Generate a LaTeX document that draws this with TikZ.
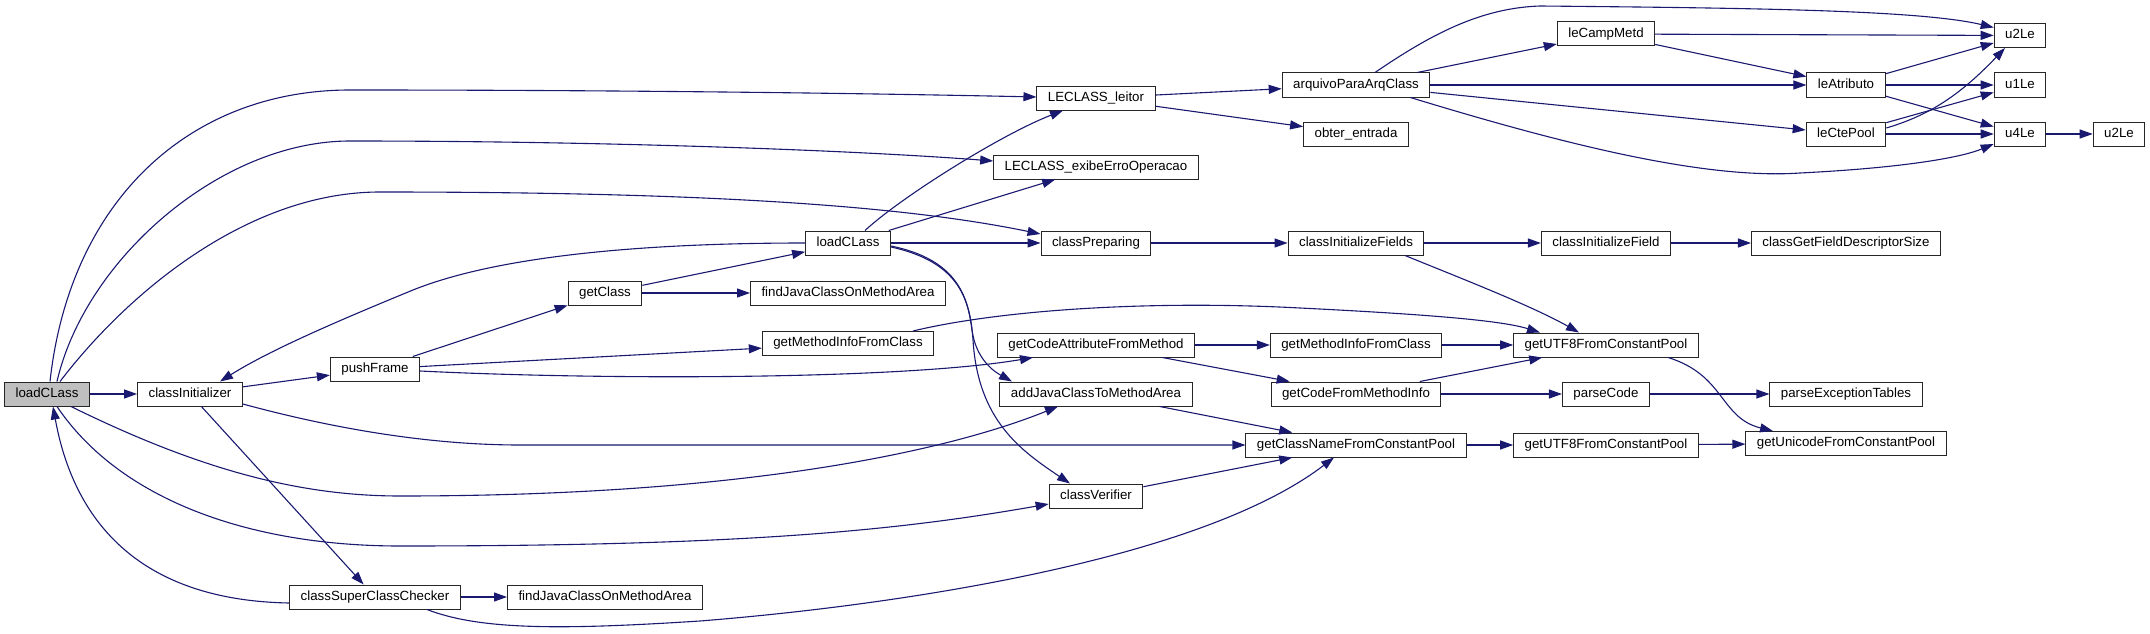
\documentclass[tikz,border=0pt]{standalone}
\usepackage{fontspec}
\setmainfont{Liberation Sans}
\usetikzlibrary{arrows.meta,calc}
\definecolor{edgeblue}{RGB}{25,25,112}
\tikzset{
  fn/.style={draw=black!85, line width=1pt, fill=white, rectangle, inner xsep=11pt, inner ysep=0pt,
    minimum height=24pt, text height=9.6pt, text depth=2.8pt, font=\fontsize{13.3}{15}\selectfont},
  root/.style={fn, fill=black!25},
  call/.style={edgeblue, line width=1.1pt, -{Triangle[length=13pt,width=9pt]}}
}
\begin{document}
\begin{tikzpicture}[x=1pt, y=-1pt]
 \useasboundingbox (0,0) rectangle (2150,634);
 % functions
 \node[root] (lc) at (47,394) {loadCLass};
 \node[fn] (ci) at (190,394) {classInitializer};
 \node[fn] (pf) at (375,369) {pushFrame};
 \node[fn] (cscc) at (375,597) {classSuperClassChecker};
 \node[fn] (gc) at (605,293) {getClass};
 \node[fn] (fjb) at (605,597) {findJavaClassOnMethodArea};
 \node[fn] (lc2) at (848,243) {loadCLass};
 \node[fn] (fjt) at (848,293) {findJavaClassOnMethodArea};
 \node[fn] (gmi1) at (848,343.5) {getMethodInfoFromClass};
 \node[fn] (leitor) at (1096,98) {LECLASS\_leitor};
 \node[fn] (erro) at (1096,167) {LECLASS\_exibeErroOperacao};
 \node[fn] (prep) at (1096,243) {classPreparing};
 \node[fn] (gca) at (1096,345) {getCodeAttributeFromMethod};
 \node[fn] (addj) at (1096,394) {addJavaClassToMethodArea};
 \node[fn] (cver) at (1096,496) {classVerifier};
 \node[fn] (arq) at (1356,85) {arquivoParaArqClass};
 \node[fn] (obter) at (1356,134) {obter\_entrada};
 \node[fn] (cifs) at (1356,243) {classInitializeFields};
 \node[fn] (gmi2) at (1356,345) {getMethodInfoFromClass};
 \node[fn] (gcfm) at (1356,394) {getCodeFromMethodInfo};
 \node[fn] (gcn) at (1356,445) {getClassNameFromConstantPool};
 \node[fn] (lcm) at (1606,34) {leCampMetd};
 \node[fn] (cif) at (1606,243) {classInitializeField};
 \node[fn] (utf1) at (1606,345) {getUTF8FromConstantPool};
 \node[fn] (pcode) at (1606,394) {parseCode};
 \node[fn] (utf2) at (1606,445) {getUTF8FromConstantPool};
 \node[fn] (latr) at (1846,85) {leAtributo};
 \node[fn] (lcp) at (1846,134) {leCtePool};
 \node[fn] (gfds) at (1846,243) {classGetFieldDescriptorSize};
 \node[fn] (pet) at (1846,394) {parseExceptionTables};
 \node[fn] (guni) at (1846,443.5) {getUnicodeFromConstantPool};
 \node[fn] (u2a) at (2020,35.5) {u2Le};
 \node[fn] (u1) at (2020,85) {u1Le};
 \node[fn] (u4) at (2020,134) {u4Le};
 \node[fn] (u2b) at (2119,134) {u2Le};
 % calls from loadCLass
 \draw[call] (lc) -- (ci);
 \draw[call] ($(lc.north)+(3,0)$) .. controls (70,200) and (190,90) .. (350,90) .. controls (650,90) and (900,94) .. ($(leitor.west)+(0,-1)$);
 \draw[call] ($(lc.north)+(10,0)$) .. controls (85,260) and (220,141) .. (350,141) .. controls (600,141) and (850,150) .. ($(erro.west)+(0,-6)$);
 \draw[call] ($(lc.north)+(13,0)$) .. controls (130,290) and (250,192) .. (380,192) .. controls (700,192) and (900,205) .. ($(prep.west)+(0,-9)$);
 \draw[call] ($(lc.south)+(24,0)$) .. controls (200,470) and (300,496) .. (400,496) .. controls (750,496) and (950,450) .. ($(addj.south)+(-38,0)$);
 \draw[call] ($(lc.south)+(10,0)$) .. controls (120,500) and (250,546) .. (400,546) .. controls (750,546) and (900,530) .. ($(cver.west)+(0,8)$);
 % classInitializer and below
 \draw[call] (ci) -- (pf);
 \draw[call] (ci) -- (cscc);
 \draw[call] ($(ci.east)+(0,10)$) .. controls (320,425) and (420,445) .. (520,445) -- (gcn.west);
 \draw[call] ($(cscc.west)+(0,6)$) .. controls (120,600) and (70,500) .. ($(lc.south)+(6,0)$);
 \draw[call] (cscc) -- (fjb);
 \draw[call] ($(cscc.south)+(52,0)$) .. controls (480,630) and (560,630) .. (700,621) .. controls (900,605) and (1200,560) .. ($(gcn.south)+(-22,0)$);
 \draw[call] (pf) -- (gc);
 \draw[call] (pf) -- (gmi1);
 \draw[call] ($(pf.east)+(0,2)$) .. controls (600,380) and (900,380) .. ($(gca.south)+(-63,0)$);
 \draw[call] (gc) -- (lc2);
 \draw[call] (gc) -- (fjt);
 \draw[call] ($(gmi1.north)+(65,0)$) .. controls (1000,310) and (1150,300) .. (1300,308) .. controls (1420,314) and (1500,320) .. ($(utf1.north)+(-66,0)$);
 % inner loadCLass
 \draw[call] (lc2.west) .. controls (650,243) and (500,255) .. (413,290) .. controls (340,320) and (270,350) .. ($(ci.north)+(30,0)$);
 \draw[call] ($(lc2.north)+(17,0)$) .. controls (900,198) and (1000,135) .. ($(leitor.south)+(-33,0)$);
 \draw[call] (lc2) -- (erro);
 \draw[call] (lc2) -- (prep);
 \draw[call] ($(lc2.east)+(0,3)$) .. controls (960,260) and (968,300) .. (972,330) .. controls (976,360) and (995,372) .. ($(addj.north)+(-84,0)$);
 \draw[call] ($(lc2.east)+(0,4)$) .. controls (960,262) and (970,300) .. (973,340) .. controls (978,420) and (1020,450) .. ($(cver.north)+(-26,0)$);
 % middle column
 \draw[call] (leitor) -- (arq);
 \draw[call] (leitor) -- (obter);
 \draw[call] (prep) -- (cifs);
 \draw[call] (gca) -- (gmi2);
 \draw[call] (gca) -- (gcfm);
 \draw[call] (addj) -- (gcn);
 \draw[call] (cver) -- (gcn);
 \draw[call] (cifs) -- (cif);
 \draw[call] ($(cifs.south)+(49,0)$) .. controls (1460,278) and (1530,305) .. ($(utf1.north)+(-27,0)$);
 \draw[call] (gmi2) -- (utf1);
 \draw[call] (gcfm) -- (utf1);
 \draw[call] (gcfm) -- (pcode);
 \draw[call] (gcn) -- (utf2);
 \draw[call] (cif) -- (gfds);
 \draw[call] (pcode) -- (pet);
 \draw[call] (utf2) -- (guni);
 \draw[call] ($(utf1.south)+(62,0)$) .. controls (1725,375) and (1720,418) .. ($(guni.north)+(-73,0)$);
 % class file reading
 \draw[call] (arq) -- (lcm);
 \draw[call] (arq) -- (latr);
 \draw[call] (arq) -- (lcp);
 \draw[call] ($(arq.north)+(19,0)$) .. controls (1430,35) and (1480,8) .. (1540,6) .. controls (1750,8) and (1920,10) .. ($(u2a.west)+(0,-8)$);
 \draw[call] ($(arq.south east)+(-20,0)$) .. controls (1550,140) and (1700,180) .. (1800,173) .. controls (1900,168) and (1960,158) .. ($(u4.west)+(0,10)$);
 \draw[call] (lcm) -- (u2a);
 \draw[call] (lcm) -- (latr);
 \draw[call] (latr) -- (u2a);
 \draw[call] (latr) -- (u1);
 \draw[call] (latr) -- (u4);
 \draw[call] (lcp) -- (u1);
 \draw[call] ($(lcp.east)+(0,-6)$) .. controls (1930,115) and (1960,95) .. ($(u2a.south)+(-15,0)$);
 \draw[call] (lcp) -- (u4);
 \draw[call] (u4) -- (u2b);
\end{tikzpicture}
\end{document}
